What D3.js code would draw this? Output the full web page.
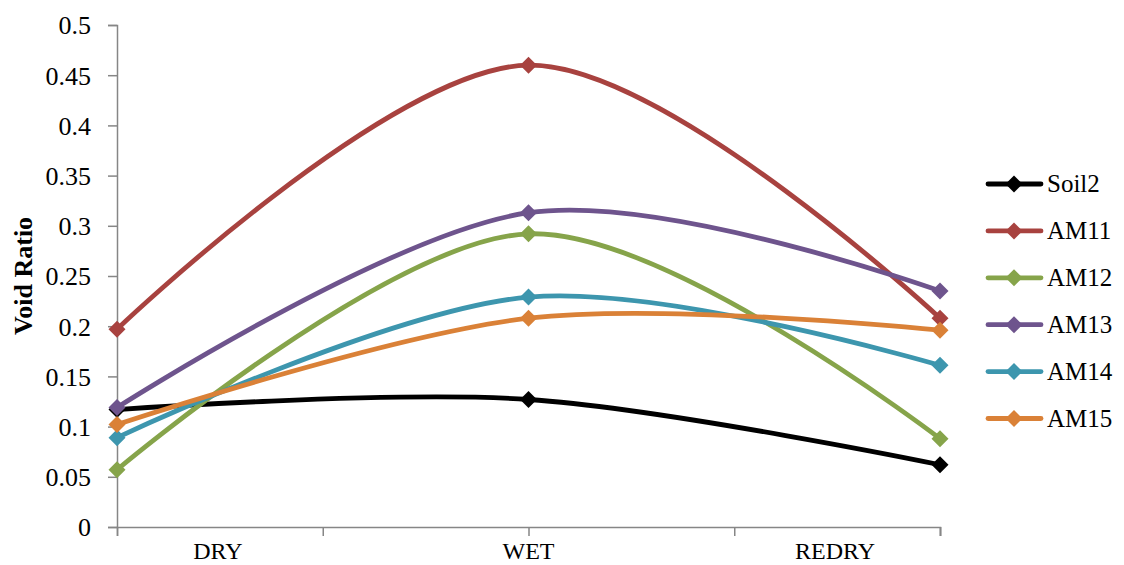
<!DOCTYPE html>
<html><head><meta charset="utf-8">
<script src="https://cdn.jsdelivr.net/npm/d3@7"></script>
<style>body{margin:0;background:#fff}svg{display:block}</style>
</head><body>
<svg id="c" width="1124" height="565"></svg>
<script>
const categories = ["DRY", "WET", "REDRY"];
const seriesNames = ["Soil2", "AM11", "AM12", "AM13", "AM14", "AM15"];
const soil2 = [0.117, 0.127, 0.062];
const am11 = [0.197, 0.460, 0.208];
const am12 = [0.057, 0.292, 0.088];
const am13 = [0.119, 0.313, 0.235];
const am14 = [0.089, 0.229, 0.161];
const am15 = [0.102, 0.208, 0.196];
const yTicks = [0, 0.05, 0.1, 0.15, 0.2, 0.25, 0.3, 0.35, 0.4, 0.45, 0.5];
const colors = ["#000000", "#A8423F", "#86A44A", "#6E548D", "#3D96AE", "#DA8137"];
const seriesValues = [soil2, am11, am12, am13, am14, am15];

const svg = d3.select("#c");
const font = "'Liberation Serif', 'Times New Roman', serif";
const x = d3.scalePoint().domain(d3.range(categories.length)).range([117, 940]);
const xl = d3.scaleLinear().domain([0, categories.length - 1]).range([117, 940]);
const y = d3.scaleLinear().domain([0, 0.5]).range([527, 25]);

// y axis
const gy = svg.append("g").attr("transform", "translate(117,0)")
  .call(d3.axisLeft(y).tickValues(yTicks).tickSize(9).tickPadding(17)
    .tickFormat(d => d3.format("")(+d.toFixed(2))));
gy.select(".domain").attr("stroke", "#868686").attr("stroke-width", 1.5);
gy.selectAll(".tick line").attr("stroke", "#868686").attr("stroke-width", 1.5);
gy.selectAll("text").attr("font-family", font).attr("font-size", 26).attr("fill", "#000").attr("dy", "0.34em");

// x axis
const halfTicks = d3.range(0, categories.length - 0.5, 0.5).concat([categories.length - 1]);
const gx = svg.append("g").attr("transform", "translate(0,527)")
  .call(d3.axisBottom(xl).tickValues(halfTicks).tickSize(9).tickFormat(""));
gx.select(".domain").attr("stroke", "#868686").attr("stroke-width", 1.5);
gx.selectAll(".tick line").attr("stroke", "#868686").attr("stroke-width", 1.5);
// category labels (first/last pushed inside the plot as in the original)
const labelPos = categories.map((c, i) => {
  if (i === 0) return xl(0.245);
  if (i === categories.length - 1) return xl(categories.length - 1 - 0.255);
  return xl(i);
});
svg.append("g").selectAll("text").data(categories).join("text")
  .attr("x", (d, i) => labelPos[i]).attr("y", 559)
  .attr("text-anchor", "middle").attr("font-family", font).attr("font-size", 24)
  .text(d => d);

// y title
svg.append("text").attr("transform", "translate(32,276) rotate(-90)")
  .attr("text-anchor", "middle").attr("font-family", font).attr("font-size", 26)
  .attr("font-weight", "bold").text("Void Ratio");

const line = d3.line().x((d, i) => x(i)).y(d => y(d)).curve(d3.curveCardinal.tension(0));
const diamond = s => `M0,${-s}L${s},0L0,${s}L${-s},0Z`;

seriesValues.forEach((vals, k) => {
  svg.append("path").datum(vals).attr("d", line)
    .attr("fill", "none").attr("stroke", colors[k]).attr("stroke-width", 4.8)
    .attr("stroke-linejoin", "round");
});
seriesValues.forEach((vals, k) => {
  svg.append("g").selectAll("path").data(vals).join("path")
    .attr("transform", (d, i) => `translate(${x(i)},${y(d)})`)
    .attr("d", diamond(8.5)).attr("fill", colors[k]);
});

// legend
const lg = svg.append("g");
seriesNames.forEach((n, k) => {
  const yy = 184 + k * 46.9;
  lg.append("line").attr("x1", 988).attr("x2", 1041).attr("y1", yy).attr("y2", yy)
    .attr("stroke", colors[k]).attr("stroke-width", 4.8).attr("stroke-linecap", "round");
  lg.append("path").attr("transform", `translate(1014,${yy})`).attr("d", diamond(8.5)).attr("fill", colors[k]);
  lg.append("text").attr("x", 1047).attr("y", yy + 8).attr("font-family", font)
    .attr("font-size", 25).text(n);
});
</script>
</body></html>
